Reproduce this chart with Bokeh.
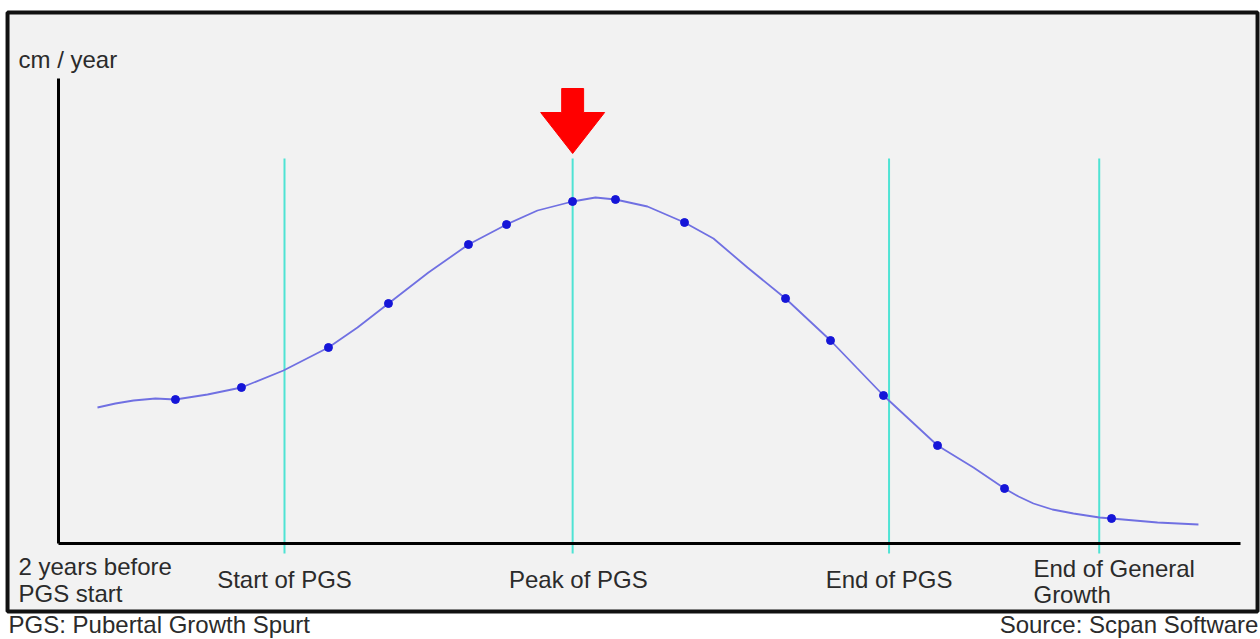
from bokeh.plotting import figure
from bokeh.models import Range1d, Label, FixedTicker, BoxAnnotation
from bokeh.embed import file_html
from bokeh.resources import INLINE

# ---------------- data (x: years relative to start of PGS, y: cm / year) ----------------
event_labels = ["2 years before PGS start", "Start of PGS", "Peak of PGS", "End of PGS", "End of General Growth"]
event_x = [-2.0, 0.0, 2.55, 5.35, 7.21]

curve_x = [-1.655, -1.496, -1.336, -1.142, -0.965, -0.681, -0.381, -0.009, 0.389, 0.646,
           0.920, 1.274, 1.628, 1.965, 2.239, 2.549, 2.752, 2.929, 3.212, 3.540,
           3.796, 4.097, 4.434, 4.832, 5.062, 5.301, 5.540, 5.779, 6.097, 6.372,
           6.496, 6.628, 6.796, 6.982, 7.212, 7.319, 7.726, 8.088]
curve_y = [3.40, 3.50, 3.575, 3.625, 3.60, 3.725, 3.90, 4.325, 4.90, 5.40,
           6.00, 6.775, 7.475, 7.975, 8.325, 8.55, 8.65, 8.60, 8.425, 8.025,
           7.625, 6.90, 6.125, 5.075, 4.40, 3.70, 3.075, 2.45, 1.90, 1.375,
           1.175, 1.00, 0.85, 0.75, 0.65, 0.625, 0.525, 0.475]

dot_x = [-0.965, -0.381, 0.389, 0.920, 1.628, 1.965, 2.549, 2.929, 3.540, 4.434,
         4.832, 5.301, 5.779, 6.372, 7.319]
dot_y = [3.60, 3.90, 4.90, 6.00, 7.475, 7.975, 8.55, 8.60, 8.025, 6.125,
         5.075, 3.70, 2.45, 1.375, 0.625]

# axis extents
x_axis_start, x_axis_end = -2.0, 8.46
y_axis_start, y_axis_end = 0.0, 11.625

# guide lines extent
guide_bottom, guide_top = -0.25, 9.625

# ---------------- styles / geometry ----------------
FONT = "Liberation Sans"
TEXT_COLOR = "#2b2b2b"
FS = "24px"

p = figure(width=1260, height=639, output_backend="svg", toolbar_location=None,
           x_range=Range1d(-2.5133, 8.6372), y_range=Range1d(-2.4, 13.575),
           min_border=0)
p.background_fill_color = "white"
p.border_fill_color = "white"
p.outline_line_color = None
p.grid.visible = False

# framed grey panel
p.add_layout(BoxAnnotation(left=-2.451, right=8.611, bottom=-1.70, top=13.275,
                           fill_color="#f2f2f2", fill_alpha=1.0,
                           line_color="#111111", line_alpha=1.0, line_width=4,
                           level="underlay"))

for ax, loc, bnds in ((p.xaxis[0], y_axis_start, (x_axis_start, x_axis_end)),
                      (p.yaxis[0], x_axis_start, (y_axis_start, y_axis_end))):
    ax.fixed_location = loc
    ax.bounds = bnds
    ax.ticker = FixedTicker(ticks=[])
    ax.axis_line_width = 3
    ax.axis_line_color = "black"
    ax.major_tick_line_color = None
    ax.minor_tick_line_color = None
    ax.major_label_text_font_size = "0px"

# guide lines
gx = event_x[1:]
p.segment(x0=gx, y0=[guide_bottom] * len(gx), x1=gx, y1=[guide_top] * len(gx),
          line_color="#4fe3d4", line_width=2)

# curve and dots
p.line(curve_x, curve_y, line_color="#7070e2", line_width=1.8)
p.scatter(dot_x, dot_y, size=8, fill_color="#1515d8", line_color="#1515d8")

# red arrow at the peak
peak = event_x[2]
shaft_hw, head_hw = 0.097, 0.283
arrow_top, head_base, tip = 11.375, 10.775, 9.75
ax_ = [peak - shaft_hw, peak + shaft_hw, peak + shaft_hw, peak + head_hw, peak,
       peak - head_hw, peak - shaft_hw]
ay_ = [arrow_top, arrow_top, head_base, head_base, tip, head_base, head_base]
p.patch(ax_, ay_, fill_color="#ff0000", line_color="#ff0000", line_width=1)


def lab(x, y, text, align="left", baseline="alphabetic", size=FS):
    p.add_layout(Label(x=x, y=y, text=text, text_align=align, text_baseline=baseline,
                       text_font=FONT, text_font_size=size, text_color=TEXT_COLOR))


left_x = -2.354
lab(left_x, 12.10, "cm / year")
lab(left_x, -0.575, "2 years before")
lab(left_x, -1.25, "PGS start")
lab(event_x[1], -0.90, event_labels[1], align="center")
lab(event_x[2] + 0.05, -0.90, event_labels[2], align="center")
lab(event_x[3], -0.90, event_labels[3], align="center")
lab(6.628, -0.625, "End of General")
lab(6.628, -1.275, "Growth")

# footnotes (below the panel)
lab(-2.442, -2.03, "PGS: Pubertal Growth Spurt", size="24px")
lab(8.619, -2.03, "Source: Scpan Software", align="right", size="24px")

open("out.html", "w").write(file_html(p, INLINE))
